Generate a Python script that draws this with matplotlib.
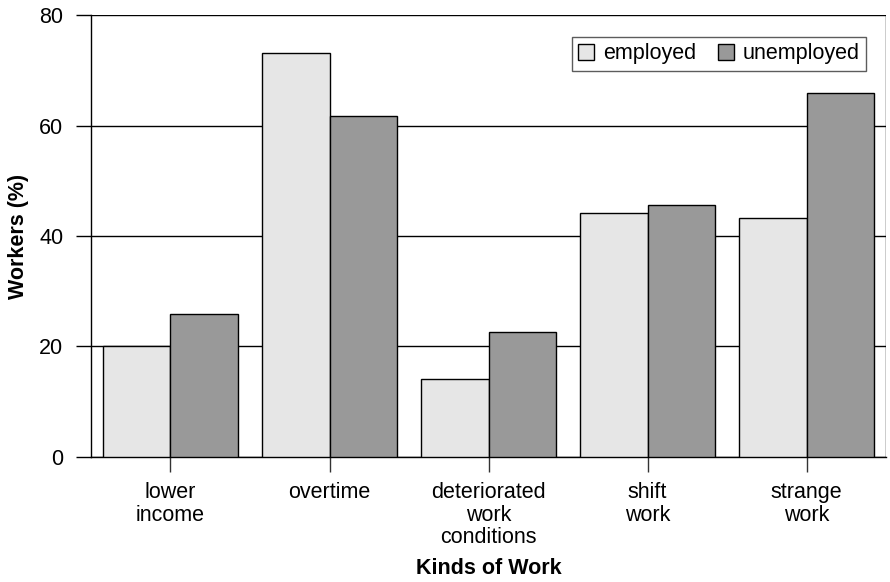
import numpy as np
import matplotlib.pyplot as plt

plt.rcParams['font.family'] = ['Liberation Sans', 'DejaVu Sans']

categories = ['lower\nincome', 'overtime', 'deteriorated\nwork\nconditions', 'shift\nwork', 'strange\nwork']
employed = [20.0, 73.1, 14.1, 44.1, 43.2]
unemployed = [25.8, 61.8, 22.7, 45.7, 65.8]

fig = plt.figure(figsize=(8.9, 5.82), dpi=100)
ax = fig.add_axes([0.1022, 0.2148, 0.8935, 0.7594])

x = np.arange(len(categories))
w = 0.425
ax.bar(x - w / 2, employed, w, color='#e6e6e6', edgecolor='black', linewidth=1, label='employed', zorder=3)
ax.bar(x + w / 2, unemployed, w, color='#999999', edgecolor='black', linewidth=1, label='unemployed', zorder=3)

ax.set_xlim(-0.5, len(categories) - 0.5)
ax.set_ylim(0, 80)
ax.set_yticks([0, 20, 40, 60, 80])
ax.set_xticks(x)
ax.set_xticklabels(categories, fontsize=15.5, linespacing=1.1)
ax.tick_params(axis='y', labelsize=15.5, length=11, width=1, pad=9)
ax.tick_params(axis='x', length=11, width=1, pad=7, color='#333333')
ax.yaxis.grid(True, color='black', linewidth=1, zorder=0)

for s in ['top', 'right']:
    ax.spines[s].set_visible(False)
ax.spines['left'].set_linewidth(1)
ax.spines['bottom'].set_linewidth(1)
ax.axvline(len(categories) - 0.5, color='black', linewidth=1, zorder=1)

ax.set_xlabel('Kinds of Work', fontsize=15.5, fontweight='bold', labelpad=7)
ax.set_ylabel('Workers (%)', fontsize=15.5, fontweight='bold', labelpad=7)

leg = ax.legend(ncol=2, loc='upper right', bbox_to_anchor=(0.98, 0.96), fontsize=15.5,
                frameon=True, fancybox=False, edgecolor='#333333', handlelength=0.75,
                handleheight=0.75, columnspacing=1.0, handletextpad=0.4, borderpad=0.3,
                borderaxespad=0.2)
leg.get_frame().set_linewidth(1)

fig.savefig('out.png', dpi=100)
